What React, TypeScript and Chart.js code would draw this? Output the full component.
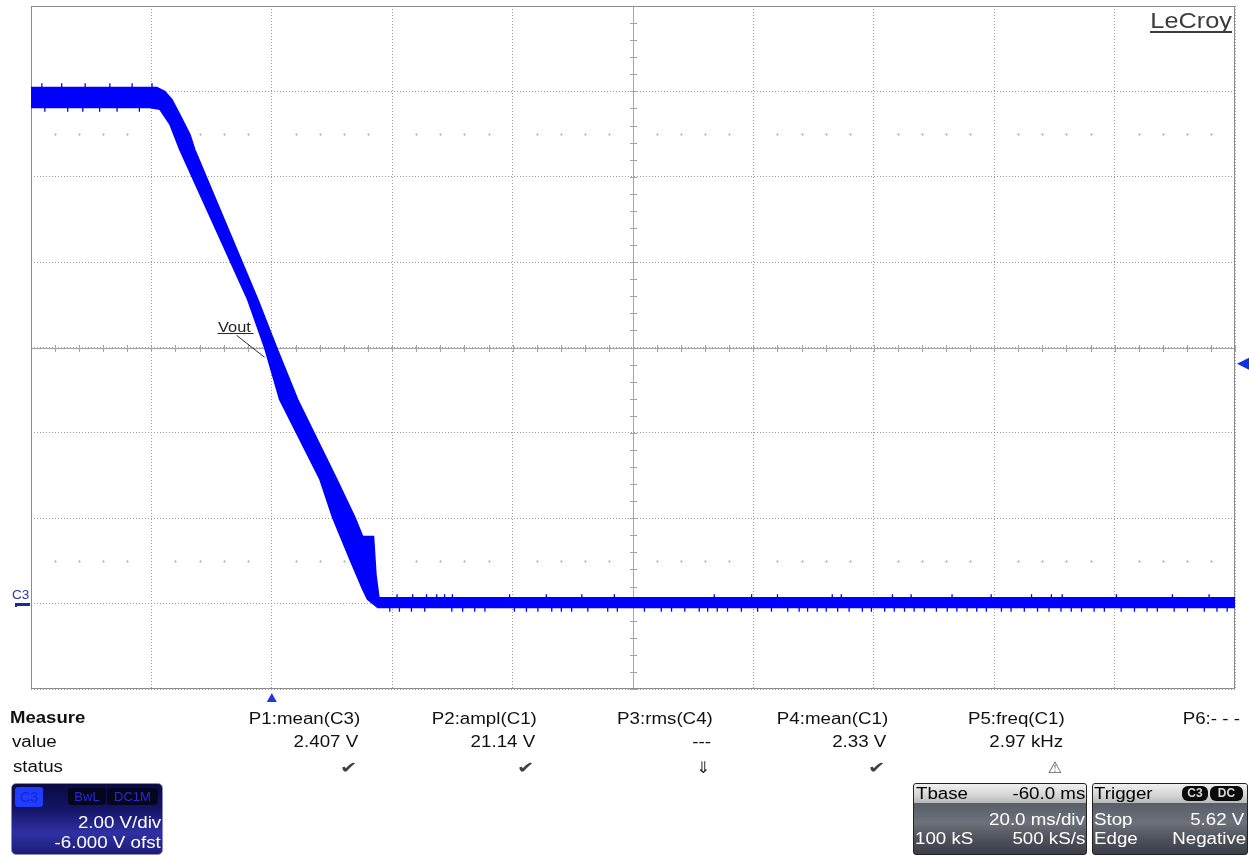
import React, { useEffect, useRef } from 'react';
import { Chart, registerables } from 'chart.js';

Chart.register(...registerables);

const W = 1249;
const H = 855;
const SANS = '"Liberation Sans", Arial, sans-serif';
const SYM = '"DejaVu Sans", sans-serif';
const BLUE = 'rgb(0, 0, 255)';

// ---- axis settings (20 ms/div, 2 V/div, -6 V offset) ----
const timeMin = -40;
const timeMax = 160;
const timeStep = 20;
const voltMin = -2;
const voltMax = 14;
const voltStep = 2;
const triggerTime = 0;
const triggerLevel = 5.62;
const markerRowVolts = [11, 1];

// ---- C3 trace envelope (ms, V) ----
const upperTime = [-40, -19.1, -17.8, -16.6, -15.3, -13.6, -12.8, -2.3, 0.8, 4.3, 10.8, 13.8, 15.1, 16.9, 17.3, 17.8, 160];
const upperVolts = [12.09, 12.09, 12.0, 11.81, 11.46, 10.99, 10.64, 7.12, 6.0, 4.78, 2.91, 2.02, 1.57, 1.57, 0.68, 0.14, 0.14];
const lowerTime = [-40, -20.3, -18.6, -16.9, -15.3, -4.0, -1.2, 1.3, 8.0, 10.1, 13.0, 15.1, 15.9, 17.6, 160];
const lowerVolts = [11.62, 11.62, 11.58, 11.22, 10.64, 7.12, 6.0, 4.78, 2.91, 2.02, 1.03, 0.33, 0.1, -0.09, -0.09];

// ---- noise spikes (ms) ----
const highUpSpikes = [-38.2, -34.9, -31.0, -26.9, -23.2, -19.9];
const highDownSpikes = [-37.7, -33.9, -31.4, -28.6, -25.7, -22.0];
const lowUpSpikes = [20.8, 23.4, 25.7, 27.4, 28.7, 30.0, 39.5, 45.6, 51.5, 56.9, 73.5, 79.7, 84.0, 93.1, 94.6, 103.1, 106.2, 113.0, 119.5, 126.2, 129.5, 131.3, 140.3, 149.6, 155.7];
const lowDownSpikes = [19.6, 21.2, 23.2, 25.4, 29.9, 31.7, 33.7, 35.4, 40.3, 42.3, 44.2, 46.5, 48.1, 49.8, 52.5, 55.8, 57.4, 61.9, 64.7, 66.4, 68.6, 71.0, 72.4, 74.0, 75.7, 78.0, 80.7, 83.0, 85.7, 87.6, 89.0, 90.6, 92.1, 94.0, 95.9, 98.1, 99.6, 101.8, 103.4, 105.1, 106.7, 108.4, 110.4, 112.2, 113.8, 115.5, 117.1, 118.7, 121.2, 122.8, 125.0, 127.2, 129.1, 131.1, 132.8, 134.5, 136.6, 138.3, 141.1, 143.3, 145.4, 147.1, 149.9, 152.1, 154.9, 157.0, 158.7];
const spikeLevels = { highUp: [12.09, 12.19], highDown: [11.62, 11.52], lowUp: [0.14, 0.22], lowDown: [-0.09, -0.19] };

// ---- measurement table ----
const measureNames = ['P1:mean(C3)', 'P2:ampl(C1)', 'P3:rms(C4)', 'P4:mean(C1)', 'P5:freq(C1)', 'P6:- - -'];
const measureValues = ['2.407 V', '21.14 V', '---', '2.33 V', '2.97 kHz', ''];
const measureStatus = ['\u2714', '\u2714', '\u21D3', '\u2714', '\u26A0', ''];
const measureRight = [360, 537, 713, 888, 1065, 1240];

function Txt(props: {
  x: number; base: number; text: string; align?: 'left' | 'right'; size?: number;
  weight?: number; color?: string; sx?: number; family?: string; deco?: string;
}) {
  const { x, base, text, align = 'left', size = 16, weight = 400, color = '#000', sx = 1.17, family = SANS, deco } = props;
  const style: React.CSSProperties = {
    position: 'absolute',
    top: base - 0.8465 * size,
    fontFamily: family,
    fontSize: size,
    fontWeight: weight,
    color,
    lineHeight: `${size}px`,
    whiteSpace: 'pre',
    transform: `scaleX(${sx})`,
    transformOrigin: align === 'left' ? 'left center' : 'right center',
    textDecoration: deco,
  };
  if (align === 'left') style.left = x; else style.right = W - x;
  return <div style={style}>{text}</div>;
}

const scopePlugin = {
  id: 'scopeDecor',
  beforeDatasetsDraw(chart: any) {
    const { ctx, chartArea: a, scales } = chart;
    const x = scales.x;
    const y = scales.y;
    ctx.save();
    // faint marker rows
    ctx.strokeStyle = '#c6c6c6';
    ctx.lineWidth = 1;
    for (const v of markerRowVolts) {
      const py = Math.round(y.getPixelForValue(v)) + 0.5;
      for (let i = 0; i <= (timeMax - timeMin) / 4; i++) {
        const t = timeMin + i * 4;
        if (t % timeStep === 0) continue;
        const px = Math.round(x.getPixelForValue(t)) + 0.5;
        ctx.beginPath();
        ctx.moveTo(px - 1.5, py); ctx.lineTo(px + 1.5, py);
        ctx.moveTo(px, py - 1.5); ctx.lineTo(px, py + 1.5);
        ctx.stroke();
      }
    }
    // centre cross
    const cx = Math.round(x.getPixelForValue((timeMin + timeMax) / 2)) + 0.5;
    const cy = Math.round(y.getPixelForValue((voltMin + voltMax) / 2)) + 0.5;
    ctx.strokeStyle = '#a4a4a4';
    ctx.beginPath();
    ctx.moveTo(a.left, cy); ctx.lineTo(a.right, cy);
    ctx.moveTo(cx, a.top); ctx.lineTo(cx, a.bottom);
    for (let i = 0; i <= (timeMax - timeMin) / 4; i++) {
      const px = Math.round(x.getPixelForValue(timeMin + i * 4)) + 0.5;
      ctx.moveTo(px, cy - 3.5); ctx.lineTo(px, cy + 3.5);
    }
    for (let i = 0; i <= (voltMax - voltMin) / 0.4; i++) {
      const py = Math.round(y.getPixelForValue(voltMin + i * 0.4)) + 0.5;
      ctx.moveTo(cx - 3.5, py); ctx.lineTo(cx + 3.5, py);
    }
    ctx.stroke();
    // frame
    ctx.strokeStyle = '#8c8c8c';
    ctx.strokeRect(a.left + 0.5, a.top + 0.5, a.right - a.left - 1, a.bottom - a.top - 1);
    ctx.restore();
  },
  afterDatasetsDraw(chart: any) {
    const { ctx, chartArea: a, scales } = chart;
    const x = scales.x;
    const y = scales.y;
    ctx.save();
    // trigger time marker
    const tx = x.getPixelForValue(triggerTime);
    ctx.fillStyle = '#1c3ad6';
    ctx.beginPath();
    ctx.moveTo(tx, a.bottom + 4); ctx.lineTo(tx + 5, a.bottom + 13); ctx.lineTo(tx - 5, a.bottom + 13);
    ctx.closePath(); ctx.fill();
    // trigger level marker
    const ty = y.getPixelForValue(triggerLevel);
    ctx.fillStyle = '#1030e8';
    ctx.beginPath();
    ctx.moveTo(a.right + 2, ty); ctx.lineTo(a.right + 14, ty - 6); ctx.lineTo(a.right + 14, ty + 6);
    ctx.closePath(); ctx.fill();
    // ground marker for C3
    const gy = Math.round(y.getPixelForValue(0));
    ctx.fillStyle = '#1b2a8c';
    ctx.fillRect(a.left - 16, gy - 1, 15, 3);
    ctx.fillRect(a.left - 16, gy + 1, 2, 2);
    // Vout label underline + leader
    const ax = x.getPixelForValue(-1.2);
    const ay = y.getPixelForValue(5.77);
    ctx.strokeStyle = '#2a2a2a';
    ctx.lineWidth = 1;
    ctx.beginPath();
    ctx.moveTo(ax - 47, Math.round(ay - 24) + 0.5); ctx.lineTo(ax - 11, Math.round(ay - 24) + 0.5);
    ctx.moveTo(ax - 28, ay - 22); ctx.lineTo(ax, ay);
    ctx.stroke();
    ctx.restore();
  },
};

function buildSpikes() {
  const out: any[] = [];
  const add = (times: number[], lv: number[]) => {
    for (const t of times) {
      out.push({ x: t, y: lv[0] }, { x: t, y: lv[1] }, { x: t, y: null });
    }
  };
  add(highUpSpikes, spikeLevels.highUp);
  add(highDownSpikes, spikeLevels.highDown);
  add(lowUpSpikes, spikeLevels.lowUp);
  add(lowDownSpikes, spikeLevels.lowDown);
  return out;
}

function ScopeChart() {
  const ref = useRef<HTMLCanvasElement | null>(null);
  useEffect(() => {
    if (!ref.current) return;
    const axis = (min: number, max: number, step: number) => ({
      type: 'linear' as const,
      min, max,
      ticks: { display: false, stepSize: step },
      grid: { display: true, color: '#9c9c9c', lineWidth: 1, drawTicks: false },
      border: { display: false, dash: [1, 2] },
    });
    const chart = new Chart(ref.current, {
      type: 'line',
      data: {
        datasets: [
          {
            label: 'C3 upper',
            data: upperTime.map((t, i) => ({ x: t, y: upperVolts[i] })),
            borderColor: BLUE, backgroundColor: BLUE, borderWidth: 1.5,
            pointRadius: 0, tension: 0, fill: '+1',
          },
          {
            label: 'C3 lower',
            data: lowerTime.map((t, i) => ({ x: t, y: lowerVolts[i] })),
            borderColor: BLUE, backgroundColor: BLUE, borderWidth: 1.5,
            pointRadius: 0, tension: 0, fill: false,
          },
          {
            label: 'C3 noise',
            data: buildSpikes(),
            borderColor: BLUE, borderWidth: 1.3,
            pointRadius: 0, tension: 0, fill: false, spanGaps: false,
          },
        ],
      },
      options: {
        animation: false,
        responsive: false,
        devicePixelRatio: 1,
        layout: { padding: { left: 31, top: 6, right: 14, bottom: 166 } },
        plugins: { legend: { display: false }, tooltip: { enabled: false } },
        scales: {
          x: axis(timeMin, timeMax, timeStep),
          y: axis(voltMin, voltMax, voltStep),
        },
      } as any,
      plugins: [scopePlugin],
    });
    return () => chart.destroy();
  }, []);
  return <canvas ref={ref} width={W} height={H} style={{ position: 'absolute', left: 0, top: 0, width: W, height: H }} />;
}

function Badge(props: { left: number; top: number; w: number; h: number; bg: string; color: string; text: string; size?: number; radius?: number; weight?: number }) {
  const { left, top, w, h, bg, color, text, size = 13, radius = 4, weight = 400 } = props;
  return (
    <div style={{
      position: 'absolute', left, top, width: w, height: h, background: bg, borderRadius: radius,
      color, fontFamily: SANS, fontSize: size, fontWeight: weight, lineHeight: `${h}px`, textAlign: 'center',
    }}>{text}</div>
  );
}

const darkGrad = 'linear-gradient(180deg, #3c424e 0%, #5a606a 30%, #6c717a 55%, #4c5058 80%, #3a3e46 100%)';
const lightGrad = 'linear-gradient(180deg, #f0f0f0 0%, #d4d4d4 60%, #b8b8b8 100%)';

function statusStyle(s: string) {
  if (s === '\u26A0') return { size: 16, sx: 1.0, color: '#5a5a5a' };
  if (s === '\u21D3') return { size: 16, sx: 1.0, color: '#222' };
  return { size: 16, sx: 1.3, color: '#404040' };
}

export default function App() {
  return (
    <div style={{ position: 'absolute', left: 0, top: 0, width: W, height: H, background: '#fff', overflow: 'hidden' }}>
      <ScopeChart />

      {/* LeCroy logo */}
      <Txt x={1232} base={29} text="LeCroy" align="right" size={22} sx={1.15} color="#3c3c3c" />
      <div style={{ position: 'absolute', left: 1150, top: 31, width: 82, height: 2, background: '#3c3c3c' }} />

      {/* labels on the grid */}
      <Txt x={218} base={332} text="Vout" size={14} color="#222" />
      <Txt x={12} base={599} text="C3" size={13} sx={1.05} color="#2b3b9b" />

      {/* measurement table */}
      <Txt x={10} base={724} text="Measure" weight={700} sx={1.16} color="#111" />
      <Txt x={12} base={748} text="value" color="#111" />
      <Txt x={13} base={773} text="status" color="#111" />
      {measureNames.map((n, i) => {
        const st = statusStyle(measureStatus[i]);
        return (
          <React.Fragment key={n}>
            <Txt x={measureRight[i]} base={725} text={n} align="right" color="#111" />
            {measureValues[i] ? <Txt x={measureRight[i] - 2} base={748} text={measureValues[i]} align="right" color="#111" /> : null}
            {measureStatus[i] ? (
              <Txt x={measureRight[i] - 3} base={774} text={measureStatus[i]} align="right" size={st.size} sx={st.sx}
                family={SYM} color={st.color} />
            ) : null}
          </React.Fragment>
        );
      })}

      {/* channel descriptor box */}
      <div style={{
        position: 'absolute', left: 11, top: 783, width: 150, height: 70, borderRadius: 5,
        border: '1px solid #8a8ac4',
        background: 'linear-gradient(180deg, #0a0a44 0%, #141464 35%, #3030a4 70%, #1c1c78 100%)',
      }} />
      <Badge left={15} top={787} w={28} h={20} bg="#1f3cff" color="#1428c8" text="C3" size={14} radius={3} />
      <Badge left={68} top={788} w={38} h={17} bg="#05051c" color="#2a2ad8" text="BwL" />
      <Badge left={107} top={788} w={51} h={17} bg="#05051c" color="#2a2ad8" text="DC1M" />
      <Txt x={161} base={829} text="2.00 V/div" align="right" color="#fff" />
      <Txt x={161} base={849} text="-6.000 V ofst" align="right" color="#fff" />

      {/* timebase box */}
      <div style={{ position: 'absolute', left: 913, top: 783, width: 172, height: 70, borderRadius: 3, border: '1px solid #222', background: darkGrad, overflow: 'hidden' }}>
        <div style={{ position: 'absolute', left: 0, top: 0, right: 0, height: 19, background: lightGrad }} />
      </div>
      <Txt x={916} base={800} text="Tbase" color="#000" />
      <Txt x={1085} base={800} text="-60.0 ms" align="right" color="#000" />
      <Txt x={1085} base={826} text="20.0 ms/div" align="right" color="#fff" />
      <Txt x={915} base={845} text="100 kS" color="#fff" />
      <Txt x={1085} base={845} text="500 kS/s" align="right" color="#fff" />

      {/* trigger box */}
      <div style={{ position: 'absolute', left: 1092, top: 783, width: 154, height: 70, borderRadius: 3, border: '1px solid #222', background: darkGrad, overflow: 'hidden' }}>
        <div style={{ position: 'absolute', left: 0, top: 0, right: 0, height: 19, background: lightGrad }} />
      </div>
      <Txt x={1094} base={800} text="Trigger" color="#000" />
      <Badge left={1182} top={786} w={26} h={15} bg="#0a0a0a" color="#d8d8d8" text="C3" size={12} radius={6} weight={700} />
      <Badge left={1210} top={786} w={33} h={15} bg="#0a0a0a" color="#d8d8d8" text="DC" size={12} radius={6} weight={700} />
      <Txt x={1094} base={826} text="Stop" color="#fff" />
      <Txt x={1244} base={826} text="5.62 V" align="right" color="#fff" />
      <Txt x={1094} base={845} text="Edge" color="#fff" />
      <Txt x={1246} base={845} text="Negative" align="right" color="#fff" />
    </div>
  );
}
